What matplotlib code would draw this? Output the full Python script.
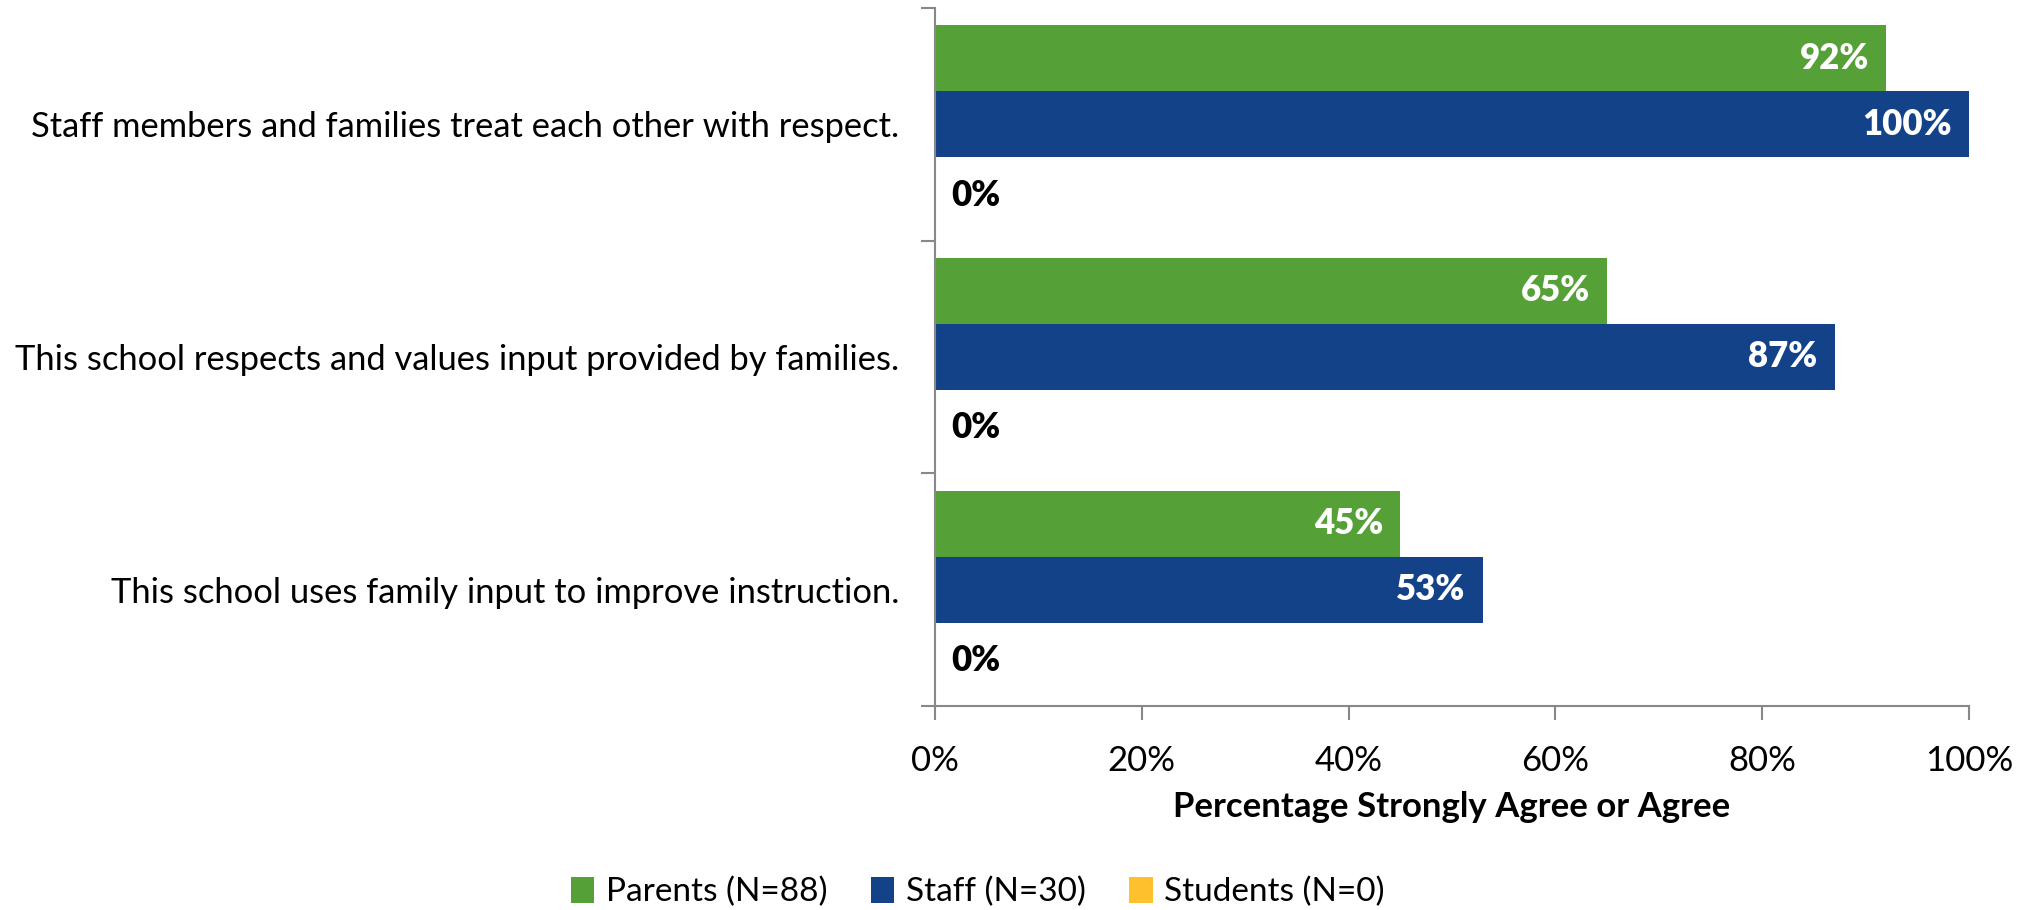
import matplotlib
matplotlib.use('Agg')
import matplotlib.pyplot as plt
from matplotlib.patches import Patch
import numpy as np

plt.rcParams['font.family'] = ['Lato', 'DejaVu Sans']

# data
questions = [
    "Staff members and families treat each other with respect.",
    "This school respects and values input provided by families.",
    "This school uses family input to improve instruction.",
]
groups = ["Parents (N=88)", "Staff (N=30)", "Students (N=0)"]
parents = [92, 65, 45]
staff = [100, 87, 53]
students = [0, 0, 0]
colors = ['#55A138', '#134289', '#FFC02D']

fig = plt.figure(figsize=(20.31, 9.10), dpi=100)
ax = fig.add_axes([0.4604, 0.2242, 0.5091, 0.767])

bar_h = 0.284
y = np.arange(len(questions))
series = [parents, staff, students]
for i, (vals, col) in enumerate(zip(series, colors)):
    pos = y + (i - 1) * bar_h
    ax.barh(pos, vals, height=bar_h, color=col)
    for p, v in zip(pos, vals):
        if v > 0:
            ax.text(v - 1.7, p, f"{v}%", ha='right', va='center',
                    color='white', fontsize=25, fontweight='heavy')
        else:
            ax.text(v + 1.6, p + 0.02, f"{v}%", ha='left', va='center',
                    color='black', fontsize=25, fontweight='heavy')

ax.set_ylim(len(questions) - 0.5, -0.5)
ax.set_xlim(0, 100)

# category boundaries carry the y ticks
ax.set_yticks(np.arange(len(questions) + 1) - 0.5)
ax.set_yticklabels([])
ax.set_yticks(y, minor=True)
ax.set_yticklabels(questions, minor=True, fontsize=24.8)
ax.tick_params(axis='y', which='minor', length=0, pad=26)
ax.tick_params(axis='y', which='major', length=10, width=1.5, color='#888888', direction='out')

ax.set_xticks(np.arange(0, 101, 20))
ax.set_xticklabels([f"{t}%" for t in range(0, 101, 20)], fontsize=25)
ax.tick_params(axis='x', length=10, width=1.5, color='#888888', pad=18)
ax.set_xlabel("Percentage Strongly Agree or Agree", fontsize=25, fontweight='bold', labelpad=10)

for s in ['top', 'right']:
    ax.spines[s].set_visible(False)
for s in ['left', 'bottom']:
    ax.spines[s].set_color('#888888')
    ax.spines[s].set_linewidth(1.5)

handles = [Patch(facecolor=c, label=g) for c, g in zip(colors, groups)]
fig.legend(handles=handles, loc='center', bbox_to_anchor=(0.4815, 0.0198), ncol=3,
           frameon=False, fontsize=24, handlelength=0.7, handleheight=0.85,
           handletextpad=0.35, columnspacing=1.3)

fig.savefig("out.png", dpi=100)
